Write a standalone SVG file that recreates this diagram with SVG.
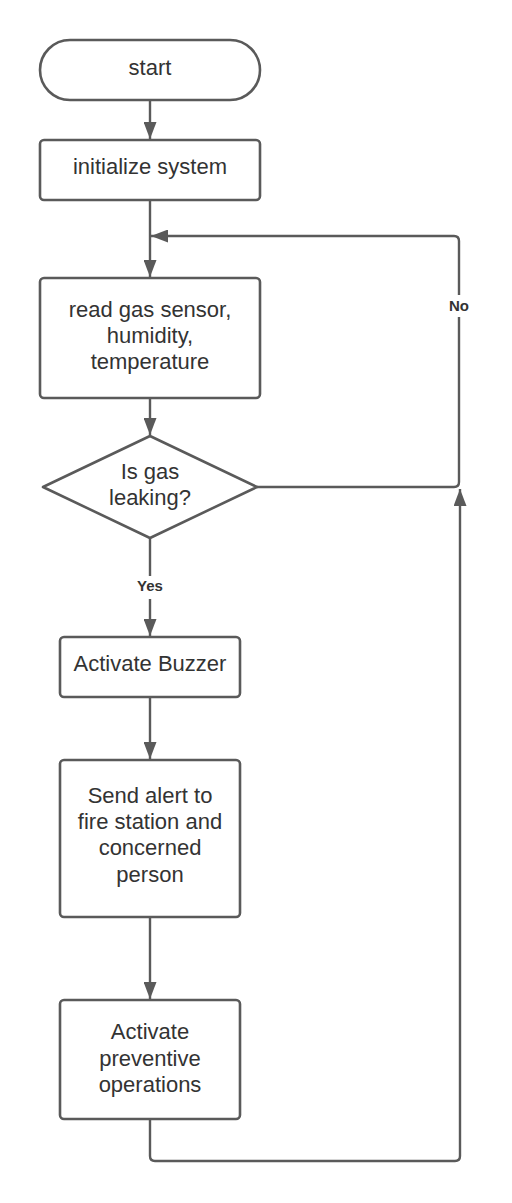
<svg xmlns="http://www.w3.org/2000/svg" width="512" height="1203" viewBox="0 0 512 1203">
<style>
.n{fill:#fff;stroke:#5a5a5a;stroke-width:2.6}
.t{font-family:"Liberation Sans",Arial,sans-serif;font-size:22px;fill:#333;text-anchor:middle}
.l{font-family:"Liberation Sans",Arial,sans-serif;font-size:15px;font-weight:bold;fill:#333;text-anchor:middle}
.c{fill:none;stroke:#5a5a5a;stroke-width:2.4}
</style>
<defs>
<marker id="b" markerWidth="17" markerHeight="13" viewBox="0 0 17 13" refX="17" refY="6.5" orient="auto" markerUnits="userSpaceOnUse">
<path d="M0,0 L17,6.5 L0,13 Z" fill="#5a5a5a"/>
</marker>
</defs>
<rect width="512" height="1203" fill="#fff"/>
<g id="connectors">
<path class="c" d="M150,100 V139" marker-end="url(#b)"/>
<path class="c" d="M150,200 V277" marker-end="url(#b)"/>
<path class="c" d="M150,398 V435" marker-end="url(#b)"/>
<path class="c" d="M257,487 H454 Q459,487 459,482 V241 Q459,236 454,236 H151" marker-end="url(#b)"/>
<path class="c" d="M150,538 V636" marker-end="url(#b)"/>
<path class="c" d="M150,697 V759" marker-end="url(#b)"/>
<path class="c" d="M150,917 V999" marker-end="url(#b)"/>
<path class="c" d="M150,1119 V1156 Q150,1161 155,1161 H455 Q460,1161 460,1156 V489" marker-end="url(#b)"/>
<rect x="440" y="295" width="38" height="22" fill="#fff"/>
<text class="l" x="459" y="311">No</text>
<rect x="130" y="576" width="40" height="23" fill="#fff"/>
<text class="l" x="150" y="591">Yes</text>
</g>
<g id="start">
<rect class="n" x="40" y="40" width="220" height="60" rx="30"/>
<text class="t" x="150" y="75">start</text>
</g>
<g id="init">
<rect class="n" x="40" y="140" width="220" height="60" rx="4"/>
<text class="t" x="150" y="174">initialize system</text>
</g>
<g id="read">
<rect class="n" x="40" y="278" width="220" height="120" rx="4"/>
<text class="t" x="150" y="317">read gas sensor,</text>
<text class="t" x="150" y="343">humidity,</text>
<text class="t" x="150" y="369">temperature</text>
</g>
<g id="decision">
<path class="n" d="M150,436 L257,487 L150,538 L43,487 Z" stroke-linejoin="round"/>
<text class="t" x="150" y="479">Is gas</text>
<text class="t" x="150" y="505">leaking?</text>
</g>
<g id="buzzer">
<rect class="n" x="60" y="637" width="180" height="60" rx="4"/>
<text class="t" x="150" y="671">Activate Buzzer</text>
</g>
<g id="alert">
<rect class="n" x="60" y="760" width="180" height="157" rx="4"/>
<text class="t" x="150" y="803">Send alert to</text>
<text class="t" x="150" y="829">fire station and</text>
<text class="t" x="150" y="855">concerned</text>
<text class="t" x="150" y="882">person</text>
</g>
<g id="preventive">
<rect class="n" x="60" y="1000" width="180" height="119" rx="4"/>
<text class="t" x="150" y="1039">Activate</text>
<text class="t" x="150" y="1066">preventive</text>
<text class="t" x="150" y="1092">operations</text>
</g>
</svg>
